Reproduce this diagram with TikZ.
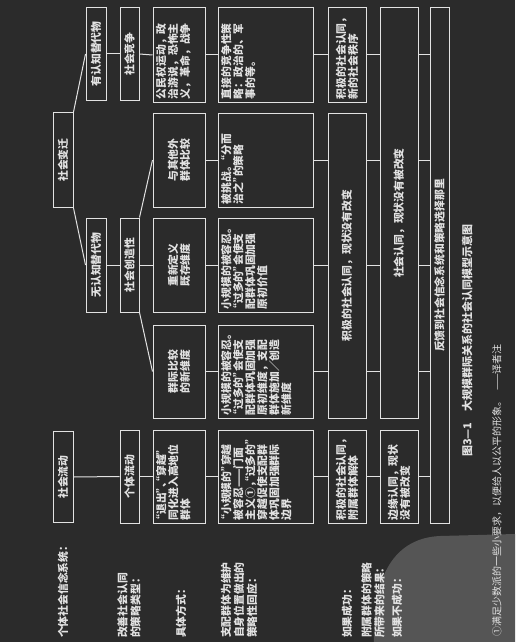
\documentclass[tikz,border=0pt]{standalone}
\usepackage{fontspec}
\setmainfont{Noto Sans CJK SC}
\usetikzlibrary{positioning}

\definecolor{pagebg}{HTML}{2B2B2B}
\definecolor{ink}{HTML}{E2E2E2}
\definecolor{stamp}{HTML}{555555}

% text blocks of the boxes: {length along text}{thickness}{text}
\newcommand{\upbox}[3]{\parbox[c][\dimexpr#2-6pt\relax][t]{\dimexpr#1-6pt\relax}{\raggedright #3}}
\newcommand{\midbox}[3]{\parbox[c][\dimexpr#2-6pt\relax][c]{\dimexpr#1-6pt\relax}{\centering #3}}
\newcommand{\sidebox}[3]{\parbox[c][\dimexpr#2-6pt\relax][c]{\dimexpr#1-6pt\relax}{\raggedright #3}}
% half-width quotes and commas
\newcommand{\halfq}[1]{{\addfontfeatures{RawFeature=+halt}#1}}

\begin{document}
\begin{tikzpicture}[x=1pt, y=-1pt,
  box/.style={draw=ink, line width=1pt, rotate=90, inner sep=3pt, text=ink, font=\bfseries\fontsize{10.8}{12}\selectfont},
  lab/.style={rotate=90, anchor=west, inner sep=0pt, text=ink, align=left, font=\bfseries\fontsize{10.8}{13}\selectfont},
  link/.style={draw=ink, line width=1pt}
]
% page
\fill[pagebg] (0,0) rectangle (515,642);
\useasboundingbox (0,0) rectangle (515,642);
\fill[stamp] (374,642) .. controls (372,575) and (395,538) .. (440,536) -- (515,534) -- (515,642) -- cycle;

% row labels
\node[lab] (row1) at (63,638) {个体社会信念系统：};
\node[lab] (row2) at (129,638) {改善社会认同\\的策略类型：};
\node[lab] (row3) at (181,638) {具体方式：};
\node[lab] (row4) at (239,638) {支配群体为维护\\自身位置做出的\\策略性回应：};
\node[lab] (row5) at (347,638) {如果成功：};
\node[lab] (row6) at (373,638) {附属群体的策略\\所带来的结果：};
\node[lab] (row7) at (397,638) {如果不成功：};

% belief systems and strategy types
\node[box] (chg) at (63,160) {\midbox{95pt}{20pt}{社会变迁}};
\node[box] (mob) at (63,477) {\midbox{91pt}{20pt}{社会流动}};
\node[box] (alt) at (96,54) {\midbox{93pt}{20pt}{有认知替代物}};
\node[box] (noalt) at (96,265) {\midbox{94pt}{20pt}{无认知替代物}};
\node[box] (comp) at (129.5,54) {\midbox{93pt}{19pt}{社会竞争}};
\node[box] (crea) at (129.5,265) {\midbox{94pt}{19pt}{社会创造性}};
\node[box] (indiv) at (129.5,476.5) {\midbox{93pt}{19pt}{个体流动}};

% concrete ways
\node[box] (way1) at (179,55) {\upbox{94pt}{52pt}{公民权运动，政\\治游说，恐怖主\\义，革命，战争}};
\node[box] (way2) at (179,160) {\midbox{94pt}{52pt}{与其他外\\群体比较}};
\node[box] (way3) at (179,265) {\midbox{94pt}{52pt}{重新定义\\既存维度}};
\node[box] (way4) at (179,371.5) {\midbox{93pt}{52pt}{群际比较\\的新维度}};
\node[box] (way5) at (179,476.5) {\upbox{93pt}{52pt}{\halfq{“退出”、“穿越”}\\同化进入高地位\\群体}};

% responses of the dominant group
\node[box] (resp1) at (265.5,55) {\upbox{94pt}{95pt}{直接的竞争性策\\略：政治的、军\\事的等。}};
\node[box] (resp2) at (265.5,160) {\upbox{94pt}{95pt}{被挑战。\halfq{“}分而\\治之\halfq{”}的策略}};
\node[box] (resp3) at (265.5,265) {\upbox{94pt}{95pt}{小规模的被容忍。\\\halfq{“}过多的\halfq{”}会使支\\配群体巩固加强\\原初价值}};
\node[box] (resp4) at (265.5,371.5) {\upbox{93pt}{95pt}{小规模的被容忍。\\\halfq{“}过多的\halfq{”}会使支\\配群体巩固加强\\原初维度，支配\\群体施加／创造\\新维度}};
\node[box] (resp5) at (265.5,476.5) {\upbox{93pt}{95pt}{\halfq{“}小规模的\halfq{”}穿越\\被容忍——门面\\主义①\halfq{，“过多的”}\\穿越促使支配群\\体巩固加强群际\\边界}};

% outcomes
\node[box] (win1) at (347,55) {\sidebox{94pt}{38pt}{积极的社会认同，\\新的社会秩序}};
\node[box] (win2) at (347,265.5) {\midbox{305pt}{38pt}{积极的社会认同，现状没有改变}};
\node[box] (win3) at (347,476.5) {\sidebox{93pt}{38pt}{积极的社会认同，\\附属群体解体}};
\node[box] (lose1) at (399,213) {\midbox{410pt}{38pt}{社会认同，现状没有被改变}};
\node[box] (lose2) at (399,476.5) {\sidebox{93pt}{38pt}{边缘认同，现状\\没有被改变}};
\node[box] (feed) at (439.5,265.5) {\midbox{515pt}{19pt}{反馈到社会信念系统和策略选择那里}};

% caption and footnote
\node[rotate=90, anchor=west, inner sep=0pt, text=ink, font=\bfseries\fontsize{11}{13}\selectfont] (cap) at (467,457) {图3—1\quad 大规模群际关系的社会认同模型示意图};
\node[lab, font=\fontsize{10}{12}\selectfont] (note) at (497,637) {①满足少数派的一些小要求，以便给人以公平的形象。\hspace{6pt}——译者注};

% connectors
\draw[link] (chg.south east) -- (alt.north);
\draw[link] (chg.south west) -- (noalt.north);
\draw[link] (alt.south) -- (comp.north);
\draw[link] (noalt.south) -- (crea.north);
\draw[link] (mob.south) -- (indiv.north);
\draw[link] (comp.south) -- (way1.north);
\draw[link] (crea.south east) -- (way2.north);
\draw[link] (crea.south) -- (way3.north);
\draw[link] (crea.south west) -- (way4.north);
\draw[link] (indiv.south) -- (way5.north);
\foreach \i in {1,...,5}
  \draw[link] (way\i.south) -- (way\i.south -| resp\i.north);
\draw[link] (resp1.south) -- (resp1.south -| win1.north);
\foreach \i in {2,3,4}
  \draw[link] (resp\i.south) -- (resp\i.south -| win2.north);
\draw[link] (resp5.south) -- (resp5.south -| win3.north);
\draw[link] (win1.south) -- (win1.south -| lose1.north);
\foreach \i in {2,3,4}
  \draw[link] (win2.south |- resp\i.south) -- (lose1.north |- resp\i.south);
\draw[link] (win3.south) -- (win3.south -| lose2.north);
\foreach \i in {1,...,4}
  \draw[link] (lose1.south |- resp\i.south) -- (feed.north |- resp\i.south);
\draw[link] (lose2.south) -- (lose2.south -| feed.north);
\end{tikzpicture}
\end{document}
